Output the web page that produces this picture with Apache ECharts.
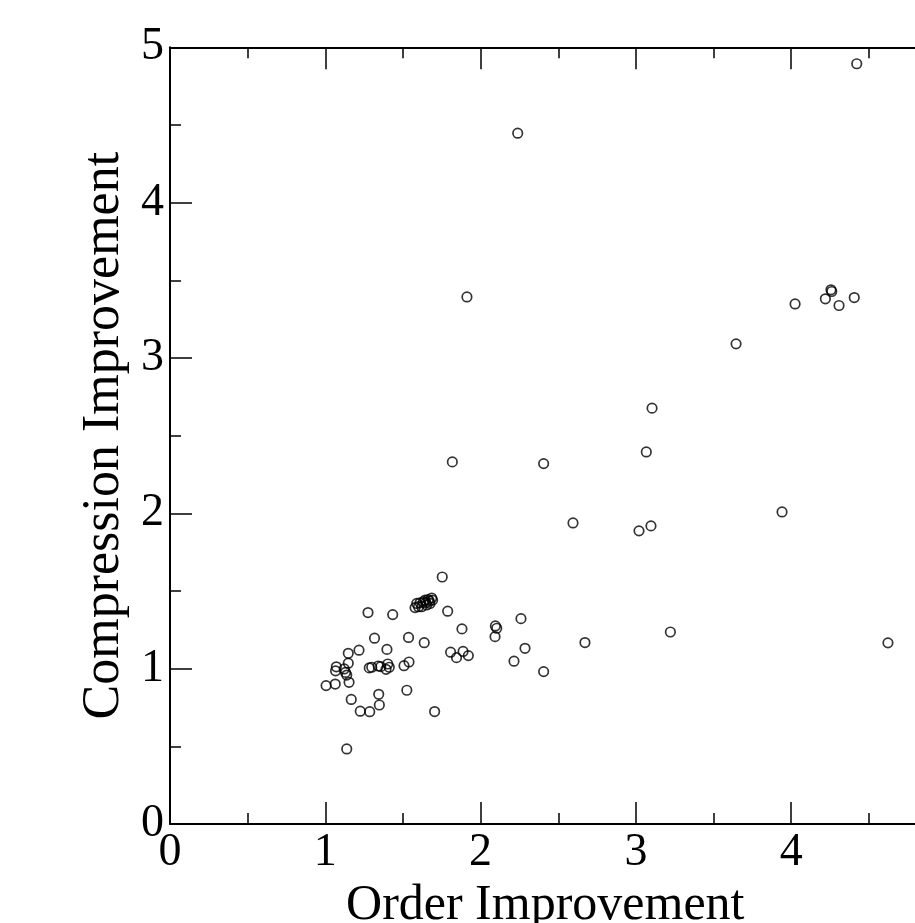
<!DOCTYPE html>
<html>
<head>
<meta charset="utf-8">
<script src="https://cdn.jsdelivr.net/npm/echarts@6/dist/echarts.min.js"></script>
<style>
  html, body { margin: 0; padding: 0; background: #fff; }
  #chart { width: 915px; height: 923px; }
</style>
</head>
<body>
<div id="chart"></div>
<script>
// values
const orderImp = [
  1.753, 1.275, 1.434, 1.788, 1.880, 2.095, 2.104, 2.093, 1.317, 1.536,
  1.637, 1.148, 1.217, 1.397, 1.807, 1.845, 1.887, 1.921, 1.148, 1.071,
  1.066, 1.122, 1.130, 1.138, 1.283, 1.299, 1.341, 1.357, 1.402, 1.412,
  1.391, 1.507, 1.539, 1.005, 1.064, 1.153, 1.167, 1.344, 1.348, 1.225,
  1.286, 1.525, 1.704, 1.138,
  1.578, 1.600, 1.589, 1.610, 1.631, 1.642, 1.663, 1.685, 1.691, 1.674,
  1.653, 1.621, 1.670, 1.648,
  2.260, 2.286, 2.215, 2.406, 2.672, 3.222,
  2.239, 1.912, 1.818, 2.406, 3.104, 3.067,
  2.595, 3.020, 3.097, 3.941, 4.623,
  3.645, 4.025, 4.220, 4.256, 4.261, 4.308, 4.406, 4.422
];
const compressionImp = [
  1.590, 1.361, 1.348, 1.370, 1.256, 1.275, 1.260, 1.206, 1.196, 1.201,
  1.167, 1.099, 1.119, 1.124, 1.106, 1.071, 1.111, 1.084, 1.035, 1.012,
  0.986, 0.998, 0.976, 0.959, 1.005, 1.009, 1.017, 1.013, 1.030, 1.009,
  0.996, 1.019, 1.043, 0.891, 0.901, 0.912, 0.802, 0.835, 0.766, 0.726,
  0.723, 0.861, 0.724, 0.483,
  1.393, 1.399, 1.420, 1.424, 1.430, 1.441, 1.445, 1.455, 1.441, 1.420,
  1.410, 1.399, 1.435, 1.425,
  1.322, 1.131, 1.048, 0.981, 1.168, 1.236,
  4.447, 3.393, 2.331, 2.320, 2.677, 2.395,
  1.938, 1.887, 1.919, 2.009, 1.166,
  3.091, 3.348, 3.381, 3.439, 3.428, 3.338, 3.389, 4.894
];

const FONT = 'Liberation Serif';
const axisLine = { show: true, onZero: false, lineStyle: { color: '#000', width: 2 } };
const axisTick = { show: true, inside: true, length: 22, lineStyle: { color: '#000', width: 1.5 } };
const minorTick = { show: true, splitNumber: 2, length: 11, lineStyle: { color: '#000', width: 1.5 } };

const myChart = echarts.init(document.getElementById('chart'));
myChart.setOption({
  animation: false,
  backgroundColor: '#fff',
  // plot runs past the right edge of the window, like the reference
  grid: { left: 170, top: 47.3, width: 776.5, height: 776.7, outerBoundsMode: 'none', containLabel: false },
  xAxis: [
    {
      type: 'value', position: 'bottom', min: 0, max: 5, interval: 1,
      name: 'Order Improvement', nameLocation: 'middle', nameGap: 44,
      nameTextStyle: { fontFamily: FONT, fontSize: 50, color: '#000', padding: [0, 26, 0, 0] },
      axisLine, axisTick, minorTick,
      axisLabel: { fontFamily: FONT, fontSize: 46, color: '#000', margin: 6 },
      splitLine: { show: false }
    },
    {
      type: 'value', position: 'top', min: 0, max: 5, interval: 1,
      axisLine, axisTick, minorTick,
      axisLabel: { show: false }, splitLine: { show: false }
    }
  ],
  yAxis: [
    {
      type: 'value', position: 'left', min: 0, max: 5, interval: 1,
      name: 'Compression Improvement', nameLocation: 'middle', nameGap: 40,
      nameTextStyle: { fontFamily: FONT, fontSize: 52, color: '#000' },
      axisLine, axisTick, minorTick,
      axisLabel: { fontFamily: FONT, fontSize: 46, color: '#000', margin: 6 },
      splitLine: { show: false }
    },
    {
      type: 'value', position: 'right', min: 0, max: 5, interval: 1,
      axisLine, axisTick, minorTick,
      axisLabel: { show: false }, splitLine: { show: false }
    }
  ],
  series: [
    {
      type: 'scatter',
      symbol: 'circle',
      symbolSize: 9.5,
      data: orderImp.map((x, i) => [x, compressionImp[i]]),
      itemStyle: { color: 'rgba(0,0,0,0)', borderColor: '#000', borderWidth: 1.7 }
    }
  ]
});
</script>
</body>
</html>
